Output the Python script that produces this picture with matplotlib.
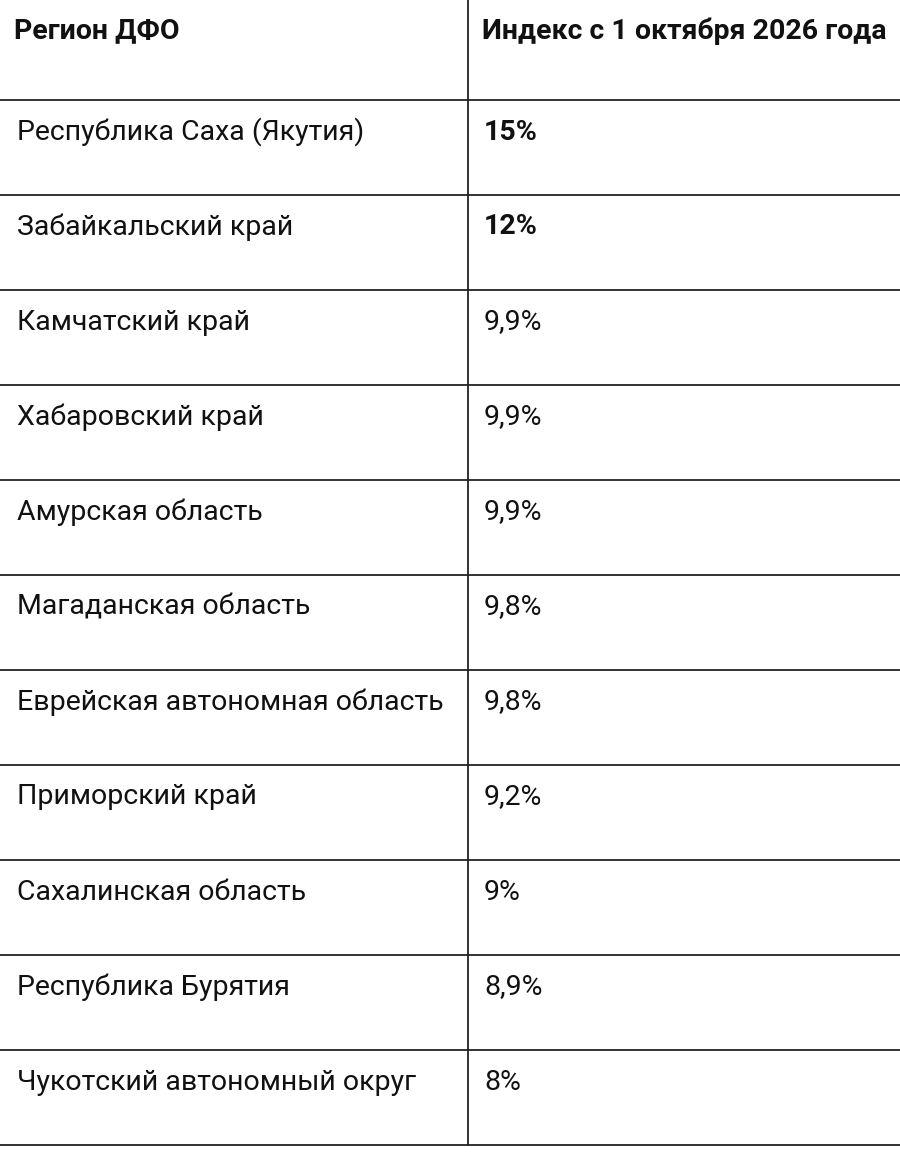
import matplotlib
matplotlib.use("Agg")
import matplotlib.pyplot as plt

header = ["Регион ДФО", "Индекс с 1 октября 2026 года"]
regions = ["Республика Саха (Якутия)", "Забайкальский край", "Камчатский край",
           "Хабаровский край", "Амурская область", "Магаданская область",
           "Еврейская автономная область", "Приморский край", "Сахалинская область",
           "Республика Бурятия", "Чукотский автономный округ"]
values = ["15%", "12%", "9,9%", "9,9%", "9,9%", "9,8%", "9,8%", "9,2%", "9%", "8,9%", "8%"]
bold_values = [True, True] + [False] * 9

plt.rcParams['font.family'] = ['Roboto', 'DejaVu Sans']
fig = plt.figure(figsize=(9, 11.58), dpi=100)
ax = fig.add_axes([0, 0, 1, 1])
ax.set_xlim(0, 900)
ax.set_ylim(1158, 0)
ax.axis('off')

lines_y = [100 + 95 * i for i in range(len(regions) + 1)]
for y in lines_y:
    ax.plot([0, 900], [y, y], color='#222222', lw=1.3)
ax.plot([468, 468], [0, lines_y[-1]], color='#222222', lw=1.3)

ax.text(14, 31, header[0], fontsize=20.5, fontweight='bold', va='center', color='#111111')
ax.text(482, 31, header[1], fontsize=20.5, fontweight='bold', va='center', color='#111111')
for i, (r, v, b) in enumerate(zip(regions, values, bold_values)):
    y = lines_y[i] + 32
    ax.text(17, y, r, fontsize=20.5, va='center', color='#111111')
    ax.text(484, y, v, fontsize=20.5, va='center', color='#111111',
            fontweight='bold' if b else 'normal')

fig.savefig("out.png", dpi=100, facecolor='white')
